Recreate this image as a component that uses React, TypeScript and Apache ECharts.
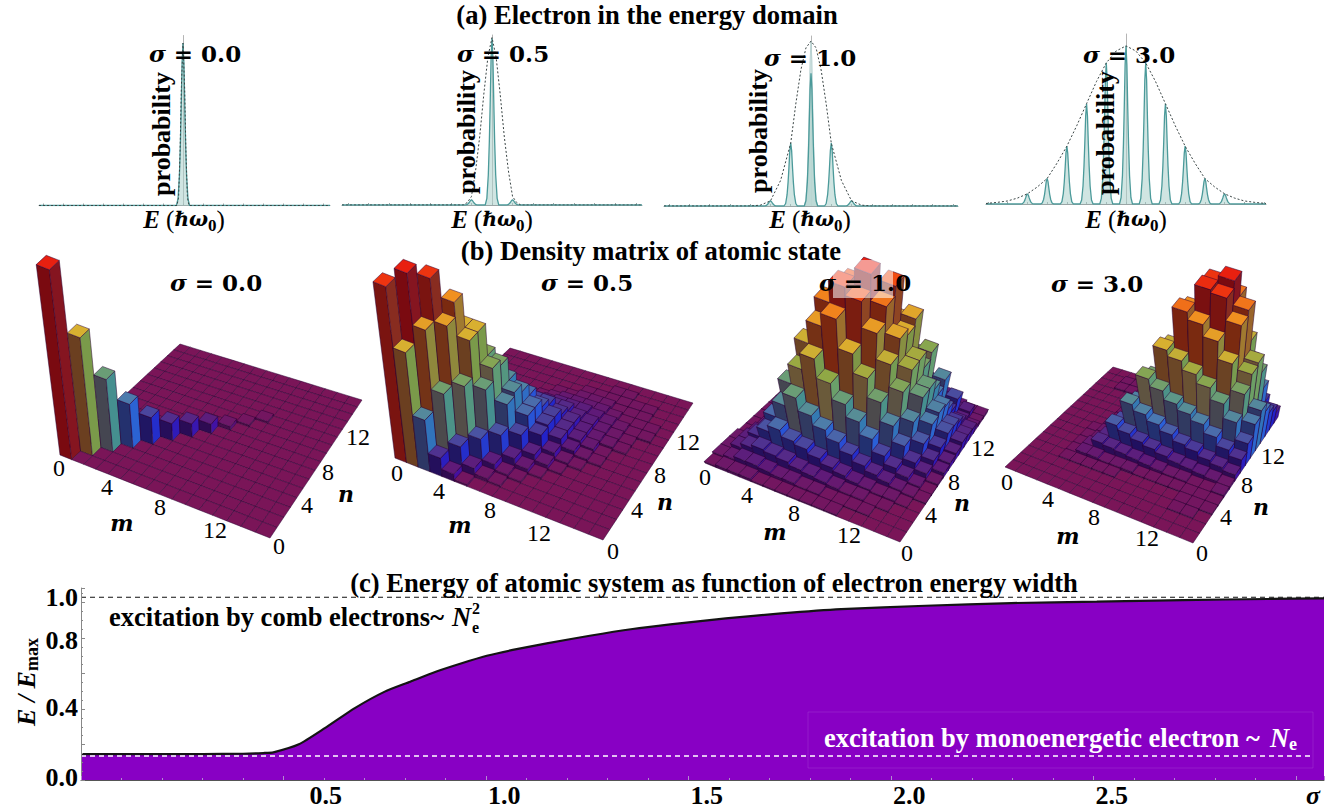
import React, { useEffect, useRef } from "react";
import * as echarts from "echarts";

const SERIF = '"Liberation Serif"';
const MATH = '"DejaVu Serif"';

// (a) comb amplitudes at harmonics
const harmonics = [-7, -6, -5, -4, -3, -2, -1, 0, 1, 2, 3, 4, 5, 6, 7];
const combSigma00 = [0, 0, 0, 0, 0, 0, 0, 0.955, 0, 0, 0, 0, 0, 0, 0];
const combSigma05 = [0, 0, 0, 0, 0, 0, 0.03, 0.98, 0.03, 0, 0, 0, 0, 0, 0];
const combSigma10 = [0, 0, 0, 0, 0, 0.03, 0.37, 0.78, 0.37, 0.03, 0, 0, 0, 0, 0];
const combSigma30 = [0, 0, 0.06, 0.15, 0.34, 0.59, 0.83, 0.93, 0.83, 0.59, 0.34, 0.15, 0.06, 0, 0];
const peakOffsets = [-0.33, -0.25, -0.18, -0.13, -0.09, -0.045, 0, 0.045, 0.09, 0.13, 0.18, 0.25, 0.33];
const peakShape = [0, 0.04, 0.18, 0.38, 0.6, 0.88, 1, 0.88, 0.6, 0.38, 0.18, 0.04, 0];

const envX00 = [-7.2, -0.3, -0.22, -0.15, -0.08, 0, 0.08, 0.15, 0.22, 0.3, 7.35];
const envY00 = [0, 0, 0.05, 0.3, 0.7, 0.955, 0.7, 0.3, 0.05, 0, 0];
const envX05 = [-7.3, -1.4, -1.2, -1, -0.8, -0.6, -0.4, -0.2, 0, 0.2, 0.4, 0.6, 0.8, 1, 1.2, 1.4, 7.3];
const envY05 = [0, 0, 0.015, 0.05, 0.2, 0.4, 0.65, 0.87, 0.985, 0.87, 0.65, 0.4, 0.2, 0.05, 0.015, 0, 0];
const envX10 = [-7.25, -3, -2.5, -2, -1.5, -1, -0.75, -0.5, -0.25, 0, 0.25, 0.5, 0.75, 1, 1.5, 2, 2.5, 3, 7.25];
const envY10 = [0, 0, 0.005, 0.03, 0.15, 0.37, 0.6, 0.8, 0.93, 0.97, 0.93, 0.8, 0.6, 0.37, 0.15, 0.03, 0.005, 0, 0];
const envX30 = [-7.1, -6.5, -6, -5.5, -5, -4.5, -4, -3.5, -3, -2.5, -2, -1.5, -1, -0.5, 0, 0.5, 1, 1.5, 2, 2.5, 3, 3.5, 4, 4.5, 5, 5.5, 6, 6.5, 7.1];
const envY30 = [0.003, 0.01, 0.018, 0.035, 0.06, 0.1, 0.15, 0.24, 0.34, 0.46, 0.59, 0.72, 0.83, 0.9, 0.93, 0.9, 0.83, 0.72, 0.59, 0.46, 0.34, 0.24, 0.15, 0.1, 0.06, 0.035, 0.018, 0.01, 0.003];

// (b) density matrices, diagonal by diagonal: row d holds rho(k+d, k) in percent
const rhoSigma00 = [[100, 62, 38, 23, 14, 9, 7, 5, 2, 1, 1]];
const rhoSigma05 = [
  [95, 100, 95, 80, 62, 42, 26, 16, 10, 6, 4, 2, 1, 1],
  [62, 72, 72, 62, 45, 30, 20, 13, 8, 5, 3, 1, 1],
  [28, 40, 42, 38, 28, 20, 13, 8, 5, 3, 2, 1],
  [10, 14, 16, 16, 14, 12, 8, 5, 3, 2, 1, 1],
  [4, 5, 5, 6, 6, 5, 4, 3, 2, 1, 1],
  [1, 2, 2, 3, 3, 2, 2, 1, 1],
  [0, 1, 1, 1, 1, 1, 1],
];
const rhoSigma10 = [
  [1, 3, 8, 16, 30, 50, 74, 95, 100, 90, 68, 46, 28, 15, 6, 2],
  [2, 5, 10, 20, 38, 60, 82, 90, 84, 64, 42, 24, 12, 5, 2],
  [2, 5, 9, 16, 30, 48, 64, 74, 68, 52, 32, 18, 8, 3],
  [2, 4, 8, 14, 24, 38, 52, 58, 52, 38, 24, 12, 6],
  [1, 3, 6, 11, 19, 30, 40, 44, 38, 26, 15, 7],
  [1, 3, 5, 8, 14, 22, 28, 28, 24, 16, 8],
  [1, 2, 4, 6, 10, 14, 18, 17, 12, 6],
  [1, 2, 3, 4, 7, 9, 10, 9, 5],
  [1, 1, 2, 3, 5, 6, 6, 4],
  [1, 1, 2, 2, 3, 3, 2],
  [1, 1, 1, 2, 2, 1],
  [0, 1, 1, 1, 1],
];
const rhoSigma30 = [
  [0, 0, 0, 1, 3, 8, 18, 30, 45, 62, 85, 97, 100, 58, 25, 7],
  [0, 0, 0, 1, 3, 7, 15, 26, 40, 58, 80, 95, 84, 40, 12],
  [0, 0, 0, 1, 2, 6, 12, 22, 34, 52, 72, 80, 52, 16],
  [0, 0, 0, 1, 2, 5, 10, 18, 30, 46, 60, 50, 22],
  [0, 0, 0, 1, 2, 4, 8, 14, 26, 38, 42, 28],
  [0, 0, 0, 0, 1, 3, 6, 12, 20, 28, 24],
  [0, 0, 0, 0, 1, 2, 5, 9, 14, 16],
  [0, 0, 0, 0, 1, 2, 4, 7, 10],
  [0, 0, 0, 0, 1, 1, 3, 5],
  [0, 0, 0, 0, 1, 1, 2],
  [0, 0, 0, 1, 1, 2],
  [0, 0, 1, 1, 1],
  [0, 0, 1, 1],
];
const matrixTickLabels = ["0", "4", "8", "12"];
const sigmaLabels = ["0.0", "0.5", "1.0", "3.0"];

// (c) energy against energy width
const widthValues = [0, 0.3, 0.4, 0.45, 0.475, 0.538, 0.602, 0.676, 0.75, 0.813, 0.876, 0.94, 1.002, 1.066, 1.15, 1.256, 1.362, 1.455, 1.592, 1.729, 1.877, 2.085, 2.297, 2.508, 2.72, 2.93, 3.069];
const energyValues = [0.146, 0.146, 0.148, 0.152, 0.156, 0.201, 0.292, 0.405, 0.498, 0.554, 0.61, 0.658, 0.7, 0.733, 0.77, 0.813, 0.851, 0.877, 0.911, 0.939, 0.963, 0.982, 0.997, 1.005, 1.014, 1.02, 1.024];
const combLimit = 1.03;
const monoLimit = 0.135;
const energyTickLabels = [0.012, 0.41, 0.785, 1.03];

const topPanels = [
  { left: 39, right: 330, base: 205.5, min: -7.2, max: 7.35, comb: combSigma00, envX: envX00, envY: envY00 },
  { left: 342, right: 642, base: 205, min: -7.3, max: 7.3, comb: combSigma05, envX: envX05, envY: envY05 },
  { left: 664, right: 958, base: 206, min: -7.25, max: 7.25, comb: combSigma10, envX: envX10, envY: envY10 },
  { left: 986, right: 1266, base: 204, min: -7.1, max: 7.1, comb: combSigma30, envX: envX30, envY: envY30 },
];
const TOP_H = 170;

const floors = [
  { L: [60, 455], F: [270, 538], R: [362, 400], B: [180, 344], V: [260, 2055], k: 0.119, rho: rhoSigma00 },
  { L: [395, 458], F: [603, 540], R: [693, 403], B: [510, 348], V: [595, 2058], k: 0.116, rho: rhoSigma05 },
  { L: [705, 463], F: [900, 542], R: [987, 413], B: [822, 355], V: [859, 773], k: 0.5, rho: rhoSigma10 },
  { L: [1005, 467], F: [1193, 543], R: [1278, 417], B: [1113, 367], V: [1203, 773], k: 0.445, rho: rhoSigma30 },
];

const palette: [number, string, string, string][] = [
  [0, "#7a1558", "#5a0f45", "#6a1050"],
  [0.04, "#5f1a78", "#300a50", "#4510a0"],
  [0.12, "#4a3a98", "#201060", "#2222c8"],
  [0.22, "#4a78b0", "#223070", "#2a60d8"],
  [0.35, "#5f9a85", "#3a4058", "#3a8a9a"],
  [0.48, "#90a845", "#6a5a3a", "#6aa06a"],
  [0.62, "#d8b030", "#6b3f20", "#7a9a4a"],
  [0.8, "#f09020", "#7a2a10", "#a07a30"],
  [0.92, "#f04010", "#7a1a10", "#8a3a20"],
  [1, "#e82010", "#7a0a10", "#851520"],
];

function mix(a: string, b: string, t: number) {
  const p = (s: string, i: number) => parseInt(s.slice(i, i + 2), 16);
  const c = [1, 3, 5].map((i) => Math.round(p(a, i) + (p(b, i) - p(a, i)) * t));
  return `rgb(${c[0]},${c[1]},${c[2]})`;
}
function shade(h: number) {
  for (let i = 1; i < palette.length; i++) {
    if (h <= palette[i][0]) {
      const t = (h - palette[i - 1][0]) / (palette[i][0] - palette[i - 1][0]);
      return [1, 2, 3].map((j) => mix(palette[i - 1][j] as string, palette[i][j] as string, t));
    }
  }
  return palette[palette.length - 1].slice(1) as string[];
}

function homography(p0: number[], p1: number[], p2: number[], p3: number[]) {
  const dx1 = p1[0] - p2[0], dx2 = p3[0] - p2[0], sx = p0[0] - p1[0] + p2[0] - p3[0];
  const dy1 = p1[1] - p2[1], dy2 = p3[1] - p2[1], sy = p0[1] - p1[1] + p2[1] - p3[1];
  const den = dx1 * dy2 - dx2 * dy1;
  const g = (sx * dy2 - dx2 * sy) / den;
  const h = (dx1 * sy - sx * dy1) / den;
  const a = p1[0] - p0[0] + g * p1[0], b = p3[0] - p0[0] + h * p3[0];
  const d = p1[1] - p0[1] + g * p1[1], e = p3[1] - p0[1] + h * p3[1];
  return (u: number, v: number) => {
    const w = g * u + h * v + 1;
    return [(a * u + b * v + p0[0]) / w, (d * u + e * v + p0[1]) / w];
  };
}

function matrixCells(rho: number[][]) {
  const cells: number[][] = [];
  for (let d = 0; d < 16; d++) {
    for (let k = 0; k < 16 - d; k++) {
      const v = (rho[d] && rho[d][k]) || 0;
      cells.push([k + d, k, v]);
      if (d > 0) cells.push([k, k + d, v]);
    }
  }
  return cells.sort((a, b) => a[0] - a[1] - (b[0] - b[1]) || a[0] - b[0]);
}

function combLine(comb: number[], min: number, max: number, scale = 1) {
  const pts: number[][] = [[min, 0]];
  harmonics.forEach((n, i) => {
    if (comb[i] > 0) peakOffsets.forEach((o, j) => pts.push([n + o, comb[i] * peakShape[j] * scale]));
  });
  pts.push([max, 0]);
  return pts;
}

function buildOption() {
  const grid: any[] = [];
  const xAxis: any[] = [];
  const yAxis: any[] = [];
  const series: any[] = [];

  topPanels.forEach((p) => {
    const idx = grid.length;
    grid.push({ left: p.left, top: p.base - TOP_H, width: p.right - p.left, height: TOP_H });
    xAxis.push({
      gridIndex: idx, type: "value", min: p.min, max: p.max, splitLine: { show: false },
      axisLabel: { show: false },
      axisLine: { onZero: false, lineStyle: { color: "#9aa5a5", width: 1 } },
      axisTick: { show: true, inside: true, length: 2, customValues: harmonics, lineStyle: { color: "#9aa5a5" } },
    });
    yAxis.push({
      gridIndex: idx, type: "value", min: 0, max: 1, splitLine: { show: false },
      axisLabel: { show: false }, axisTick: { show: false },
      axisLine: { show: true, onZero: true, lineStyle: { color: "#b5b5b5", width: 1 } },
    });
    if (p.comb === combSigma10) {
      series.push({
        type: "line", xAxisIndex: idx, yAxisIndex: idx, showSymbol: false, silent: true,
        data: combLine(p.comb, p.min, p.max, 0.97 / 0.78).filter((q) => Math.abs(q[0]) < 0.5),
        lineStyle: { color: "#b9d3d3", width: 1 }, areaStyle: { color: "#cfe2e0", opacity: 0.9 },
      });
    }
    series.push({
      type: "line", xAxisIndex: idx, yAxisIndex: idx, showSymbol: false, silent: true,
      data: combLine(p.comb, p.min, p.max),
      lineStyle: { color: "#4b9a9a", width: 1.3 }, areaStyle: { color: "#a9cfcb", opacity: 0.55 },
    });
    series.push({
      type: "line", xAxisIndex: idx, yAxisIndex: idx, showSymbol: false, silent: true,
      data: p.envX.map((x, i) => [x, p.envY[i]]),
      lineStyle: { color: "#3a4545", width: 1, type: [2, 2] },
    });
  });

  floors.forEach((f) => {
    const idx = grid.length;
    const left = Math.min(f.L[0], f.B[0]);
    const top = Math.min(f.B[1], f.R[1]);
    const width = f.R[0] - left;
    const height = f.F[1] - top;
    grid.push({ left, top, width, height });
    xAxis.push({ gridIndex: idx, type: "value", min: 0, max: 16, show: false });
    yAxis.push({ gridIndex: idx, type: "value", min: 0, max: 16, show: false });
    const warp = homography(f.L, f.F, f.R, f.B);
    series.push({
      type: "custom", xAxisIndex: idx, yAxisIndex: idx, silent: true, clip: false, z: 3,
      data: matrixCells(f.rho),
      renderItem: (_: any, api: any) => {
        const m = api.value(0), n = api.value(1), h = api.value(2) / 100;
        const proj = (a: number, b: number, z: number) => {
          const c = api.coord([a, b]);
          const q = warp((c[0] - left) / width, (top + height - c[1]) / height);
          return [q[0] + (q[0] - f.V[0]) * f.k * z, q[1] + (q[1] - f.V[1]) * f.k * z];
        };
        const [top_, lf, rt] = shade(h);
        const a0 = m, a1 = m + 1, b0 = n, b1 = n + 1;
        const line = { stroke: "rgba(40,0,50,0.7)", lineWidth: 0.7 };
        const children: any[] = [];
        if (h > 0) {
          children.push({ type: "polygon", shape: { points: [proj(a0, b0, 0), proj(a1, b0, 0), proj(a1, b0, h), proj(a0, b0, h)] }, style: { fill: lf, ...line } });
          children.push({ type: "polygon", shape: { points: [proj(a1, b0, 0), proj(a1, b1, 0), proj(a1, b1, h), proj(a1, b0, h)] }, style: { fill: rt, ...line } });
        }
        children.push({ type: "polygon", shape: { points: [proj(a0, b0, h), proj(a1, b0, h), proj(a1, b1, h), proj(a0, b1, h)] }, style: { fill: top_, ...line } });
        return { type: "group", children };
      },
    });
  });

  const ci = grid.length;
  const tickFont = { fontFamily: SERIF, fontWeight: "bold" as const, fontSize: 26, color: "#000" };
  grid.push({ left: 81, top: 588, width: 1243, height: 192 });
  xAxis.push({
    gridIndex: ci, type: "value", min: 0, max: 3.069, interval: 0.5, z: 5, splitLine: { show: false },
    minorTick: { show: true, splitNumber: 5, length: 2, lineStyle: { color: "#b48ad0" } },
    axisLine: { lineStyle: { color: "#555", width: 1 } },
    axisTick: { inside: true, length: 4, lineStyle: { color: "#b48ad0" } },
    axisLabel: {
      align: "left", margin: 2, padding: [0, 0, 0, 2], ...tickFont,
      rich: { far: { ...tickFont, padding: [0, 0, 0, 24] } },
      formatter: (v: number) => (v === 0 || v > 2.9 ? "" : v === 0.5 ? "{far|0.5}" : v.toFixed(1)),
    },
  });
  yAxis.push({
    gridIndex: ci, type: "value", min: 0, max: 1.082, interval: 0.2, z: 5, splitLine: { show: false },
    minorTick: { show: true, splitNumber: 4, length: 2, lineStyle: { color: "#888" } },
    axisLine: { lineStyle: { color: "#888", width: 1 } },
    axisTick: { length: 4, inside: true, lineStyle: { color: "#888" } },
    axisLabel: {
      customValues: energyTickLabels, margin: 3, ...tickFont,
      formatter: (v: number) => (v < 0.1 ? "0.0" : v < 0.5 ? "0.4" : v < 1 ? "0.8" : "1.0"),
    },
  });
  series.push({
    type: "line", xAxisIndex: ci, yAxisIndex: ci, showSymbol: false, silent: true, smooth: 0.2,
    data: widthValues.map((x, i) => [x, energyValues[i]]),
    lineStyle: { color: "#141414", width: 2.2 }, areaStyle: { color: "#8800c4", opacity: 1 },
  });
  series.push({
    type: "line", xAxisIndex: ci, yAxisIndex: ci, showSymbol: false, silent: true,
    data: [[0, combLimit], [3.069, combLimit]],
    lineStyle: { color: "#111", width: 1.2, type: [5, 4] },
  });
  series.push({
    type: "line", xAxisIndex: ci, yAxisIndex: ci, showSymbol: false, silent: true, z: 4,
    data: [[0, monoLimit], [3.04, monoLimit]],
    lineStyle: { color: "#fff", width: 1.6, type: [5, 4] },
  });

  const txt = (text: string, x: number, y: number, size: number, extra: any = {}, rotation = 0) => ({
    type: "text", x, y, rotation, z: 20, silent: true,
    style: {
      text, fontFamily: SERIF, fontSize: size, fontWeight: "bold", fill: "#000",
      align: "center", verticalAlign: "middle", ...extra,
    },
  });
  const sigmaRich = {
    s: { fontFamily: MATH, fontStyle: "italic", fontWeight: "bold", fontSize: 23, fill: "#000" },
    t: { fontFamily: MATH, fontWeight: "bold", fontSize: 23, fill: "#000" },
  };
  const sigmaText = (label: string, x: number, y: number) =>
    txt(`{s|σ}{t| = ${label}}`, x, y, 23, { fontFamily: MATH, rich: sigmaRich });

  const graphic: any[] = [];
  graphic.push(txt("(a) Electron in the energy domain", 647, 15, 26.6));
  graphic.push(txt("(b) Density matrix of atomic state", 651, 251, 26.6));
  graphic.push(txt("(c) Energy of atomic system as function of electron energy width", 714, 583, 26.6));

  [[195, 53], [503, 53], [810, 57], [1129, 54]].forEach((p, i) => graphic.push(sigmaText(sigmaLabels[i], p[0], p[1])));
  [[161, 134], [466, 132], [758, 131], [1105, 133]].forEach((p) =>
    graphic.push(txt("probability", p[0], p[1], 26, {}, Math.PI / 2))
  );
  const eRich = {
    i: { fontFamily: SERIF, fontStyle: "italic", fontWeight: "bold", fontSize: 25, fill: "#000", lineHeight: 30 },
    w: { fontFamily: MATH, fontStyle: "italic", fontWeight: "bold", fontSize: 20, fill: "#000", lineHeight: 30 },
    z: { fontFamily: SERIF, fontWeight: "bold", fontSize: 17, fill: "#000", verticalAlign: "bottom", lineHeight: 18 },
    n: { fontFamily: SERIF, fontWeight: "normal", fontSize: 25, fill: "#000", lineHeight: 30 },
  };
  [184, 492, 810, 1126].forEach((x) =>
    graphic.push(txt("{i|E} {n|(}{w|ℏω}{z|0}{n|)}", x, 219, 25, { rich: eRich }))
  );

  // pale patch over the sigma = 1.0 bars, then matrix labels
  graphic.push({
    type: "rect", z: 15, silent: true, shape: { x: 833, y: 260, width: 60, height: 38 },
    style: { fill: "rgba(255,255,255,0.55)" },
  });
  [[216, 282], [587, 282], [865, 282], [1097, 283]].forEach((p, i) => graphic.push(sigmaText(sigmaLabels[i], p[0], p[1])));

  const mTicks = [
    [[59, 468], [107, 487], [160, 507], [215, 530]],
    [[397, 473], [439, 491], [490, 510], [539, 533]],
    [[705, 477], [747, 495], [794, 513], [849, 535]],
    [[1007, 482], [1048, 499], [1094, 517], [1147, 538]],
  ];
  const nTicks = [
    [[279, 546], [307, 505], [328, 472], [358, 437]],
    [[613, 551], [637, 510], [660, 475], [688, 442]],
    [[907, 553], [931, 515], [954, 482], [983, 448]],
    [[1202, 553], [1226, 517], [1247, 485], [1273, 456]],
  ];
  const mNames = [[122, 523], [460, 525], [775, 532], [1068, 536]];
  const nNames = [[346, 494], [665, 502], [962, 503], [1261, 507]];
  for (let i = 0; i < 4; i++) {
    matrixTickLabels.forEach((t, j) => {
      graphic.push(txt(t, mTicks[i][j][0], mTicks[i][j][1], 24, { fontWeight: "normal" }));
      graphic.push(txt(t, nTicks[i][j][0], nTicks[i][j][1], 24, { fontWeight: "normal" }));
    });
    graphic.push(txt("m", mNames[i][0], mNames[i][1], 22, { fontStyle: "italic", fontFamily: MATH }));
    graphic.push(txt("n", nNames[i][0], nNames[i][1], 22, { fontStyle: "italic", fontFamily: MATH }));
  }

  graphic.push(txt("excitation by comb electrons~", 109, 617, 26.5, { align: "left" }));
  graphic.push(txt("N", 452, 617, 26.5, { align: "left", fontStyle: "italic" }));
  graphic.push(txt("2", 472, 608, 16, { align: "left" }));
  graphic.push(txt("e", 472, 627, 16, { align: "left" }));
  graphic.push({
    type: "rect", z: 15, silent: true, shape: { x: 808, y: 712, width: 505, height: 56 },
    style: { fill: "none", stroke: "rgba(255,255,255,0.1)", lineWidth: 1 },
  });
  graphic.push(txt("excitation by monoenergetic electron ~", 824, 738, 26.5, { align: "left", fill: "#fff" }));
  graphic.push(txt("N", 1270, 738, 26.5, { align: "left", fill: "#fff", fontStyle: "italic" }));
  graphic.push(txt("e", 1289, 744, 18, { align: "left", fill: "#fff" }));
  graphic.push(txt("σ", 1313, 795, 26, { fontStyle: "italic" }));
  graphic.push(
    txt("{e|E / E}{m|max}", 26, 682, 26, {
      rich: {
        e: { fontFamily: SERIF, fontStyle: "italic", fontWeight: "bold", fontSize: 26, fill: "#000", lineHeight: 30 },
        m: { fontFamily: SERIF, fontWeight: "bold", fontSize: 18, fill: "#000", verticalAlign: "bottom", lineHeight: 20 },
      },
    }, Math.PI / 2)
  );

  return { animation: false, backgroundColor: "#fff", grid, xAxis, yAxis, series, graphic };
}

export default function App() {
  const ref = useRef<HTMLDivElement>(null);
  useEffect(() => {
    const chart = echarts.init(ref.current!, null, { renderer: "svg" });
    chart.setOption(buildOption() as any);
    return () => chart.dispose();
  }, []);
  return <div ref={ref} style={{ position: "absolute", left: 0, top: 0, width: 1342, height: 811 }} />;
}
